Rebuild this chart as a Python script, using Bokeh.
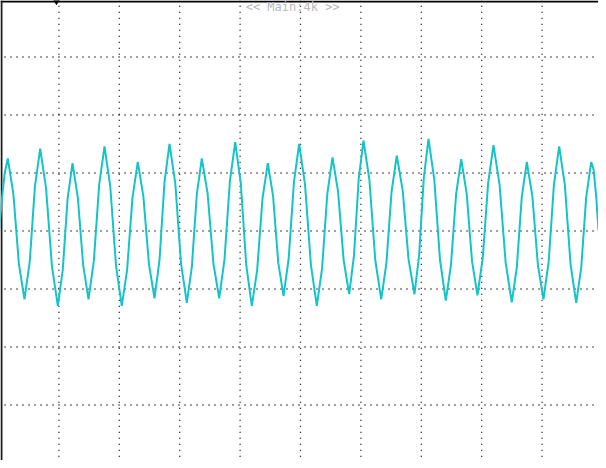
from bokeh.plotting import figure
from bokeh.models import Range1d, ColumnDataSource
from bokeh.embed import file_html
from bokeh.resources import INLINE
from bokeh.core.properties import value

# Trace samples (time in divisions, amplitude in divisions)
t_div = [0.000, 0.051, 0.103, 0.154, 0.246, 0.338, 0.430, 0.517, 0.603, 0.690,
         0.787, 0.885, 0.982, 1.063, 1.144, 1.225, 1.313, 1.402, 1.490, 1.578,
         1.667, 1.755, 1.850, 1.946, 2.041, 2.129, 2.218, 2.306, 2.398, 2.491,
         2.583, 2.666, 2.748, 2.831, 2.927, 3.022, 3.118, 3.201, 3.283, 3.366,
         3.462, 3.558, 3.654, 3.742, 3.831, 3.919, 4.011, 4.102, 4.194, 4.282,
         4.371, 4.459, 4.546, 4.632, 4.719, 4.805, 4.892, 4.978, 5.075, 5.173,
         5.270, 5.357, 5.443, 5.530, 5.622, 5.714, 5.806, 5.885, 5.964, 6.043,
         6.141, 6.238, 6.336, 6.422, 6.508, 6.594, 6.692, 6.789, 6.887, 6.964,
         7.042, 7.119, 7.215, 7.310, 7.406, 7.491, 7.576, 7.661, 7.751, 7.840,
         7.930, 8.018, 8.107, 8.195, 8.296, 8.397, 8.498, 8.581, 8.664, 8.747,
         8.839, 8.931, 9.023, 9.110, 9.196, 9.283, 9.377, 9.471, 9.565, 9.648,
         9.730, 9.813, 9.853, 9.894, 9.934]
v_div = [-0.11, 0.50, 1.00, 1.25, 0.64, -0.57, -1.18, -0.53, 0.77, 1.42,
         0.74, -0.61, -1.29, -0.68, 0.56, 1.17, 0.58, -0.59, -1.18, -0.52,
         0.80, 1.46, 0.77, -0.60, -1.29, -0.67, 0.57, 1.19, 0.60, -0.57,
         -1.16, -0.50, 0.84, 1.50, 0.82, -0.56, -1.24, -0.62, 0.63, 1.25,
         0.65, -0.56, -1.16, -0.49, 0.86, 1.53, 0.83, -0.59, -1.29, -0.68,
         0.56, 1.17, 0.60, -0.55, -1.12, -0.47, 0.85, 1.50, 0.80, -0.59,
         -1.29, -0.65, 0.63, 1.27, 0.68, -0.50, -1.09, -0.43, 0.90, 1.56,
         0.88, -0.50, -1.18, -0.56, 0.68, 1.30, 0.70, -0.49, -1.09, -0.42,
         0.92, 1.59, 0.89, -0.50, -1.20, -0.59, 0.63, 1.24, 0.65, -0.52,
         -1.11, -0.46, 0.83, 1.48, 0.80, -0.55, -1.23, -0.63, 0.59, 1.19,
         0.60, -0.59, -1.18, -0.52, 0.80, 1.46, 0.79, -0.57, -1.24, -0.63,
         0.58, 1.19, 1.06, 0.62, 0.01]

# Screen graticule
v_grid = [1, 2, 3, 4, 5, 6, 7, 8, 9]
h_grid = [3, 2, 1, 0, -1, -2, -3]
header_text = "<< Main:4k >>"

X0, X1 = 0.033, 9.934
Y0, Y1 = -3.957, 3.974

p = figure(width=598, height=460, x_range=Range1d(X0, X1),
           y_range=Range1d(Y0, Y1), toolbar_location=None,
           output_backend="svg", x_axis_location=None, y_axis_location=None,
           min_border=0)
p.outline_line_color = None
p.grid.visible = False
p.background_fill_color = "white"
p.border_fill_color = "white"

dot_col = "#000000"
for gx in v_grid:
    p.line([gx, gx], [-4.1, Y1], line_color=dot_col, line_width=1.3,
           line_dash="1 5")
for gy in h_grid:
    p.line([0, 10], [gy, gy], line_color=dot_col, line_width=1.3,
           line_dash="1 5")

# frame borders
p.line([X0, 10], [Y1 - 0.017, Y1 - 0.017], line_color="black", line_width=2)
p.line([X0 + 0.016, X0 + 0.016], [-4.1, Y1], line_color="#1a1a1a", line_width=2)

# header text
p.text(x=[4.87], y=[3.87], text=[header_text], text_font=value("DejaVu Sans Mono"),
       text_font_size="12px", text_color="#b8b8b8", text_align="center",
       text_baseline="middle")

# trigger position marker on top border
p.scatter([0.96], [Y1], marker="inverted_triangle", size=7, color="black")

# trace
src = ColumnDataSource(dict(t=t_div, v=v_div))
p.line("t", "v", source=src, line_color="#14c4c8", line_width=2.0)

open("out.html", "w").write(file_html(p, INLINE))
